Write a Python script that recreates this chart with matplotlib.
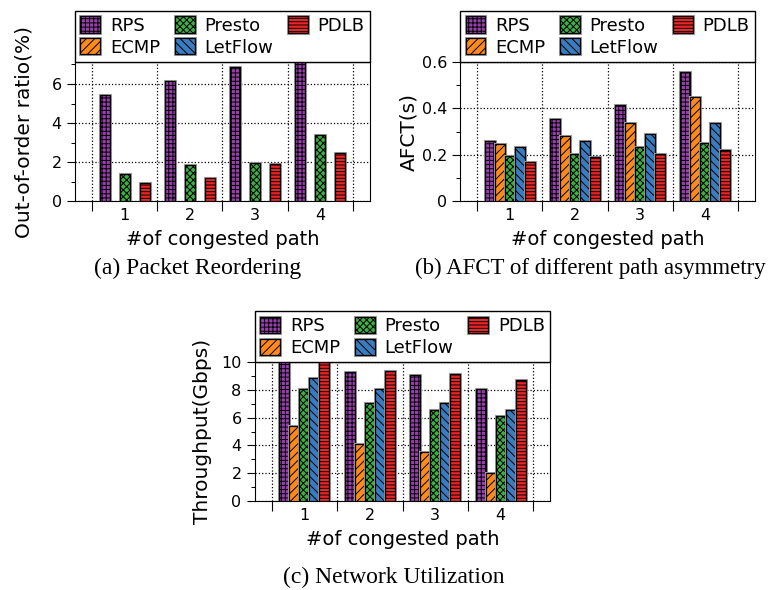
import numpy as np
import matplotlib
matplotlib.use("Agg")
import matplotlib.pyplot as plt
import matplotlib.patheffects as pe
from matplotlib.patches import FancyBboxPatch, Rectangle
from matplotlib.legend_handler import HandlerPatch
from matplotlib.ticker import MultipleLocator, FuncFormatter

# data
groups = [1, 2, 3, 4]
methods = ["RPS", "ECMP", "Presto", "LetFlow", "PDLB"]

# (a) out-of-order ratio (%), ECMP / LetFlow not plotted
ooo_rps = [5.45, 6.17, 6.86, 7.5]
ooo_ecmp = [np.nan, np.nan, np.nan, np.nan]
ooo_presto = [1.37, 1.84, 1.97, 3.38]
ooo_letflow = [np.nan, np.nan, np.nan, np.nan]
ooo_pdlb = [0.93, 1.20, 1.90, 2.47]

# (b) AFCT (s)
afct_rps = [0.261, 0.353, 0.413, 0.555]
afct_ecmp = [0.245, 0.283, 0.339, 0.449]
afct_presto = [0.195, 0.205, 0.232, 0.251]
afct_letflow = [0.235, 0.260, 0.290, 0.336]
afct_pdlb = [0.169, 0.192, 0.205, 0.222]

# (c) throughput (Gbps)
tput_rps = [10.2, 9.30, 9.08, 8.04]
tput_ecmp = [5.41, 4.08, 3.53, 2.00]
tput_presto = [8.09, 7.08, 6.59, 6.11]
tput_letflow = [8.89, 8.09, 7.08, 6.55]
tput_pdlb = [10.1, 9.35, 9.13, 8.72]

colors = ["#9b3fb0", "#ff8a1c", "#3fae45", "#3a7cc0", "#ea2528"]
hatches = ["++++", "////", "xxxxx", "\\\\\\\\", "-----"]

plt.rcParams["font.family"] = "DejaVu Sans"
plt.rcParams["hatch.linewidth"] = 0.7


def rounded_handle(legend, orig_handle, xdescent, ydescent, width, height, fontsize):
    return FancyBboxPatch((-xdescent, -ydescent), width, height,
                          boxstyle="round,pad=0,rounding_size=3")


def ytick_fmt(v, pos):
    if abs(v) < 1e-9:
        return "0"
    if abs(v - round(v)) < 1e-9:
        return "%d" % round(v)
    return "%.1f" % v


def panel(ax, series, ymax, ystep, yminor, ylabel, ylab_x):
    x = np.array(groups, dtype=float)
    w = 0.153
    for i, vals in enumerate(series):
        ax.bar(x + (i - 2) * w, vals, w, color=colors[i], hatch=hatches[i],
               edgecolor="black", linewidth=0.9, label=methods[i], zorder=3,
               path_effects=[pe.withStroke(linewidth=2.2, foreground="#a0a0a0")])
    ax.set_xlim(0.24, 4.76)
    ax.set_ylim(0, ymax)
    ax.yaxis.set_major_locator(MultipleLocator(ystep))
    ax.yaxis.set_minor_locator(MultipleLocator(yminor))
    ax.yaxis.set_major_formatter(FuncFormatter(ytick_fmt))
    ax.set_xticks([0.5, 1.5, 2.5, 3.5, 4.5])
    ax.set_xticklabels([])
    ax.set_xticks(groups, minor=True)
    ax.set_xticklabels([str(g) for g in groups], minor=True)
    ax.tick_params(axis="x", which="major", direction="out", length=7, width=0.8)
    ax.tick_params(axis="x", which="minor", length=0, labelsize=11.5, pad=5)
    ax.tick_params(axis="y", which="major", direction="out", length=6, width=0.8, labelsize=11.5)
    ax.tick_params(axis="y", which="minor", direction="out", length=3, width=0.7)
    ax.grid(True, which="major", linestyle=":", color="black", linewidth=0.9, zorder=0)
    ax.set_axisbelow(True)
    ax.set_xlabel("#of congested path", fontsize=14, labelpad=5)
    ax.set_ylabel(ylabel, fontsize=14.5)
    ax.yaxis.set_label_coords(ylab_x, 0.5)
    leg = ax.legend(ncol=3, loc="lower left", bbox_to_anchor=(0, 1, 1, 0),
                    mode="expand", borderaxespad=0, fancybox=False,
                    edgecolor="black", fontsize=13, handlelength=1.1,
                    handleheight=1.0, handletextpad=0.55, columnspacing=0.5,
                    labelspacing=0.2, borderpad=0.3,
                    handler_map={Rectangle: HandlerPatch(patch_func=rounded_handle)})
    leg.get_frame().set_linewidth(1.0)
    leg.get_frame().set_alpha(1)


fig = plt.figure(figsize=(7.72, 5.90), dpi=100)
ax_a = fig.add_axes([0.0972, 0.659, 0.382, 0.236])
ax_b = fig.add_axes([0.596, 0.659, 0.382, 0.236])
ax_c = fig.add_axes([0.330, 0.151, 0.383, 0.235])

panel(ax_a, [ooo_rps, ooo_ecmp, ooo_presto, ooo_letflow, ooo_pdlb],
      7.13, 2, 1, "Out-of-order ratio(%)", -0.14)
panel(ax_b, [afct_rps, afct_ecmp, afct_presto, afct_letflow, afct_pdlb],
      0.6, 0.2, 0.1, "AFCT(s)", -0.142)
panel(ax_c, [tput_rps, tput_ecmp, tput_presto, tput_letflow, tput_pdlb],
      10, 2, 1, "Throughput(Gbps)", -0.145)

cap = dict(family="Liberation Serif", ha="center", va="center")
fig.text(198 / 772, 1 - 268 / 590, "(a) Packet Reordering", fontsize=17, **cap)
fig.text(590 / 772, 1 - 268 / 590, "(b) AFCT of different path asymmetry", fontsize=16.5, **cap)
fig.text(394 / 772, 1 - 577 / 590, "(c) Network Utilization", fontsize=17, **cap)

fig.savefig("out.png", dpi=100)
